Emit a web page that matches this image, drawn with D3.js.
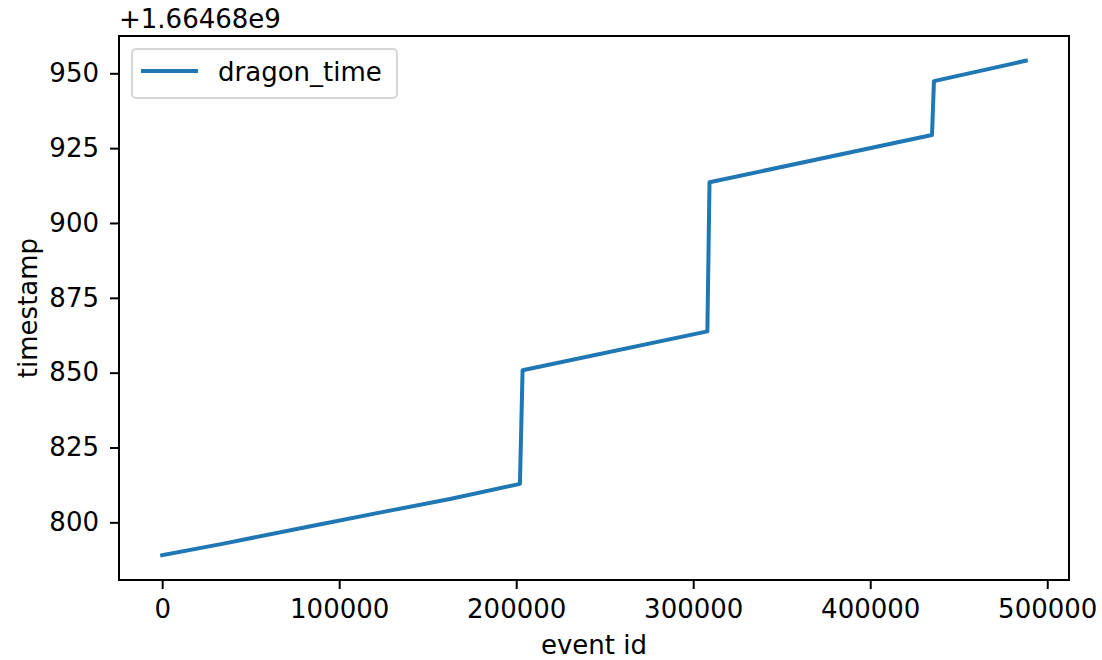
<!DOCTYPE html>
<html>
<head>
<meta charset="utf-8">
<script src="https://cdn.jsdelivr.net/npm/d3@7"></script>
<style>
  body { margin: 0; background: #fff; }
  svg text { font-family: "DejaVu Sans", Verdana, sans-serif !important; font-size: 26px; fill: #000; }
  .axis line { stroke: #000; stroke-width: 2; }
</style>
</head>
<body>
<svg width="1102" height="660"></svg>
<script>
// data (timestamps shown as offset from 1.66468e9)
var offset = "+1.66468e9";
var eventIds = [0, 34700, 87400, 125000, 162600, 200200, 202100, 203600, 308000, 309200, 434900, 436000, 487900];
var timestamps = [789.0, 792.9, 799.1, 803.5, 807.8, 812.6, 812.9, 850.8, 863.8, 913.6, 929.4, 947.4, 954.2];
var xTicks = [0, 100000, 200000, 300000, 400000, 500000];
var yTicks = [800, 825, 850, 875, 900, 925, 950];
var seriesName = "dragon_time";

var data = eventIds.map(function(d, i) { return {id: d, t: timestamps[i]}; });

// axes box like matplotlib's default
var svg = d3.select("svg"),
    margin = {top: 36, right: 33, bottom: 80, left: 119},
    width = +svg.attr("width") - margin.left - margin.right,
    height = +svg.attr("height") - margin.top - margin.bottom;

// 5% padding on both ends
var xExt = d3.extent(data, function(d) { return d.id; }),
    yExt = d3.extent(data, function(d) { return d.t; }),
    xPad = (xExt[1] - xExt[0]) * 0.05,
    yPad = (yExt[1] - yExt[0]) * 0.05;

var x = d3.scaleLinear().domain([xExt[0] - xPad, xExt[1] + xPad]).range([0, width]),
    y = d3.scaleLinear().domain([yExt[0] - yPad, yExt[1] + yPad]).range([height, 0]);

var g = svg.append("g")
    .attr("transform", "translate(" + margin.left + "," + margin.top + ")");

// the line itself
var line = d3.line()
    .x(function(d) { return x(d.id); })
    .y(function(d) { return y(d.t); });

g.append("path")
    .datum(data)
    .attr("fill", "none")
    .attr("stroke", "#1f77b4")
    .attr("stroke-width", 4)
    .attr("stroke-linejoin", "round")
    .attr("stroke-linecap", "square")
    .attr("d", line);

// axes
g.append("g")
    .attr("class", "axis axis--x")
    .attr("transform", "translate(0," + height + ")")
    .call(d3.axisBottom(x).tickValues(xTicks).tickFormat(d3.format("d")).tickSize(9).tickPadding(11).tickSizeOuter(0))
    .select(".domain").remove();

g.append("g")
    .attr("class", "axis axis--y")
    .call(d3.axisLeft(y).tickValues(yTicks).tickFormat(d3.format("d")).tickSize(9).tickPadding(11).tickSizeOuter(0))
    .select(".domain").remove();

// frame
g.append("rect")
    .attr("width", width)
    .attr("height", height)
    .attr("fill", "none")
    .attr("stroke", "#000")
    .attr("stroke-width", 2);

// offset text above the y axis
svg.append("text")
    .attr("x", margin.left)
    .attr("y", 28)
    .text(offset);

// axis labels
svg.append("text")
    .attr("x", margin.left + width / 2)
    .attr("y", 654)
    .attr("text-anchor", "middle")
    .text("event id");

svg.append("text")
    .attr("transform", "translate(37," + (margin.top + height / 2) + ") rotate(-90)")
    .attr("text-anchor", "middle")
    .text("timestamp");

// legend
var legend = g.append("g").attr("transform", "translate(13,13)");
legend.append("rect")
    .attr("width", 265)
    .attr("height", 49)
    .attr("rx", 4)
    .attr("fill", "#fff")
    .attr("fill-opacity", 0.8)
    .attr("stroke", "#d6d6d6")
    .attr("stroke-width", 2);
legend.append("line")
    .attr("x1", 9).attr("x2", 66)
    .attr("y1", 22).attr("y2", 22)
    .attr("stroke", "#1f77b4")
    .attr("stroke-width", 4);
legend.append("text")
    .attr("x", 86)
    .attr("y", 32)
    .text(seriesName);
</script>
</body>
</html>
